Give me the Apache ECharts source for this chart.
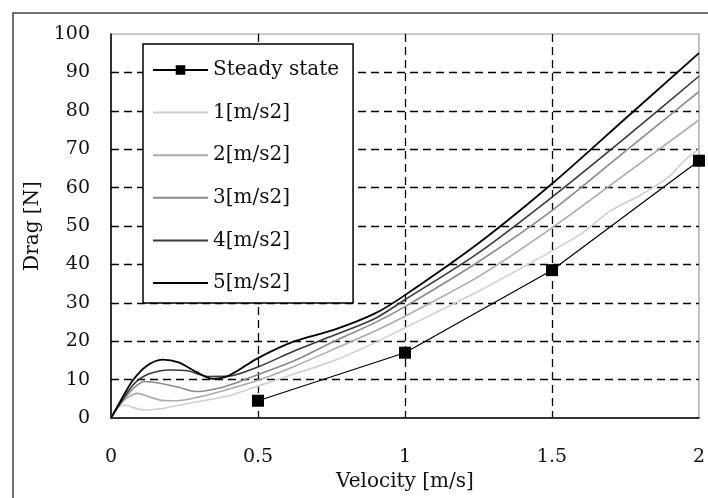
<!doctype html>
<html>
  <head>
    <meta charset="utf-8">
    <title>Drag vs Velocity</title>
    <script src="https://cdn.jsdelivr.net/npm/echarts@6/dist/echarts.min.js"></script>
  </head>
  <body style="margin:0;background:#fff;">
    <div id="main" style="width:708px;height:498px;"></div>
  </body>
  <script>
   var chart = echarts.init(document.getElementById('main'));

   // values: [velocity, drag]
   var steady = [[0.5, 4.5], [1, 17], [1.5, 38.5], [2, 67]];
   var acc1 = [[0,0],[0.02,2.5],[0.05,3.4],[0.08,2.6],[0.115,2.1],[0.17,2.4],[0.27,3.9],[0.4,5.8],[0.5,8.3],[0.625,11.5],[0.76,15],[0.9,19.7],[1,23.5],[1.25,33],[1.5,43.5],[1.6,48],[1.7,54],[1.8,58],[1.9,63],[1.95,67],[2,70]];
   var acc2 = [[0,0],[0.03,3.5],[0.06,5.5],[0.09,6.4],[0.13,5.5],[0.17,4.6],[0.22,4.5],[0.3,5.5],[0.4,7.5],[0.5,9.8],[0.625,13.5],[0.76,18],[0.9,22.7],[1,26.5],[1.25,36.8],[1.5,49.5],[1.75,63.5],[2,77.6]];
   var acc3 = [[0,0],[0.04,4.5],[0.08,8],[0.115,9.5],[0.17,9],[0.23,8],[0.29,6.9],[0.35,7.5],[0.42,9],[0.5,11.3],[0.625,15],[0.76,20],[0.9,24.9],[1,29],[1.25,40.7],[1.5,54],[1.75,69.5],[2,85]];
   var acc4 = [[0,0],[0.04,4.8],[0.08,9],[0.13,11.5],[0.2,12.5],[0.26,12.3],[0.33,10.8],[0.4,10.9],[0.5,13.3],[0.625,17.5],[0.76,21.6],[0.9,26],[1,30.8],[1.25,43],[1.5,57.5],[1.75,73],[2,89]];
   var acc5 = [[0,0],[0.04,5.5],[0.075,9.9],[0.12,13.5],[0.175,15.2],[0.23,14.5],[0.29,12],[0.345,10.2],[0.4,11],[0.5,15.6],[0.625,20],[0.76,23],[0.9,27.3],[1,32],[1.25,45.5],[1.5,61],[1.75,78],[2,95]];

   var names = ['Steady state', '1[m/s2]', '2[m/s2]', '3[m/s2]', '4[m/s2]', '5[m/s2]'];
   var curves = [acc1, acc2, acc3, acc4, acc5];
   var colors = ['#cfcfcf', '#ababab', '#8a8a8a', '#3a3a3a', '#000000'];
   var widths = [1.6, 1.6, 1.6, 1.6, 1.8];

   var font = 'DejaVu Serif';
   var dash = {color: '#000', width: 1.3, type: [8, 5]};

   var series = [{
     name: names[0],
     type: 'line',
     data: steady,
     symbol: 'rect',
     symbolSize: 12,
     itemStyle: {color: '#000'},
     lineStyle: {color: '#000', width: 1.2},
     z: 5
   }];
   curves.forEach(function (c, i) {
     series.push({
       name: names[i + 1],
       type: 'line',
       data: c,
       symbol: 'none',
       smooth: 0.3,
       lineStyle: {color: colors[i], width: widths[i]},
       itemStyle: {color: colors[i]},
       z: 3
     });
   });

   var legendData = names.map(function (n, i) {
     return i === 0 ? {name: n} : {name: n, itemStyle: {opacity: 0}};
   });

   var option = {
     backgroundColor: '#fff',
     animation: false,
     grid: {
       left: 111, right: 6, top: 34, bottom: 80,
       show: true, borderColor: '#999', borderWidth: 1.2
     },
     legend: {
       data: legendData,
       orient: 'vertical',
       left: 143,
       top: 44,
       itemWidth: 55,
       itemHeight: 12,
       itemGap: 22.6,
       padding: [16, 14, 10, 9],
       backgroundColor: '#fff',
       borderColor: '#000',
       borderWidth: 1.5,
       borderRadius: 0,
       textStyle: {fontFamily: font, fontSize: 20, color: '#111', lineHeight: 20}
     },
     xAxis: {
       type: 'value',
       min: 0, max: 2, interval: 0.5,
       name: 'Velocity [m/s]',
       nameLocation: 'middle',
       nameGap: 51,
       nameTextStyle: {fontFamily: font, fontSize: 20, color: '#111'},
       axisLine: {lineStyle: {color: '#000', width: 1.5}},
       axisTick: {show: false},
       axisLabel: {margin: 30, fontFamily: font, fontSize: 19, color: '#111'},
       splitLine: {show: true, showMinLine: false, showMaxLine: false, lineStyle: dash}
     },
     yAxis: {
       type: 'value',
       min: 0, max: 100, interval: 10,
       name: 'Drag [N]',
       nameLocation: 'middle',
       nameGap: 62,
       nameTextStyle: {fontFamily: font, fontSize: 20, color: '#111'},
       axisLine: {show: true, lineStyle: {color: '#000', width: 1.5}},
       axisTick: {show: false},
       axisLabel: {margin: 21, fontFamily: font, fontSize: 19, color: '#111'},
       splitLine: {show: true, showMinLine: false, showMaxLine: false, lineStyle: dash}
     },
     graphic: [{
       type: 'rect',
       shape: {x: 13, y: 13, width: 720, height: 520},
       style: {fill: 'none', stroke: '#444', lineWidth: 1.5},
       silent: true
     }],
     series: series
   };

   chart.setOption(option);
  </script>
</html>
